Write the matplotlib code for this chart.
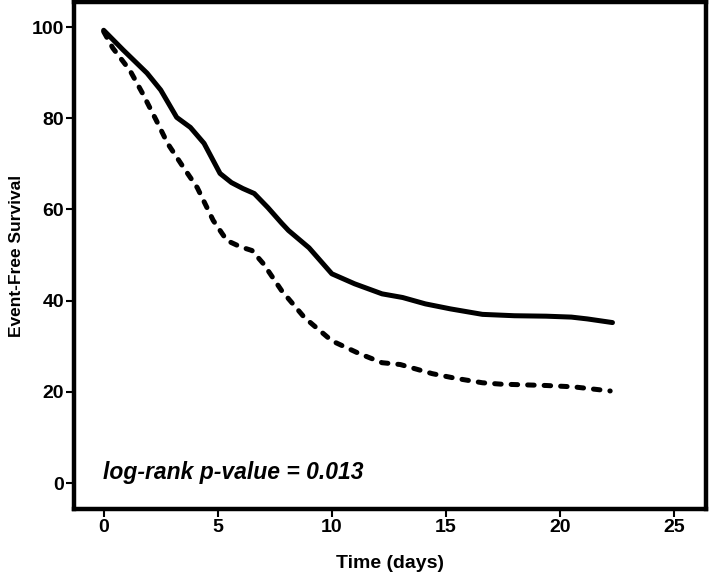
import numpy as np
import matplotlib.pyplot as plt

# survival curves (days, % event-free)
solid_t = [0, 0.85, 1.9, 2.5, 3.2, 3.8, 4.4, 5.1, 5.6, 6.1, 6.6, 7.2, 7.8, 8.1, 9.0, 10.0,
           11.0, 12.2, 13.1, 14.1, 15.2, 16.6, 18.0, 19.4, 20.5, 21.2, 22.3]
solid_v = [99.3, 95.0, 89.9, 86.2, 80.2, 78.0, 74.5, 67.9, 65.9, 64.6, 63.5, 60.4, 57.0, 55.4, 51.6, 45.9,
           43.7, 41.5, 40.7, 39.3, 38.2, 37.0, 36.7, 36.6, 36.4, 36.0, 35.2]

dashed_t = [0, 0.4, 1.15, 1.7, 2.3, 2.8, 3.5, 4.1, 4.8, 5.4, 6.0, 6.5, 7.0, 7.8, 8.8, 10.0,
            11.2, 12.2, 13.0, 14.4, 15.4, 16.6, 17.4, 19.4, 20.6, 22.2]
dashed_v = [99.0, 95.4, 90.5, 85.5, 79.6, 74.5, 69.2, 64.8, 57.6, 53.2, 51.8, 51.0, 48.1, 42.2, 36.3, 31.2,
            28.4, 26.4, 26.0, 24.0, 23.0, 22.0, 21.7, 21.4, 21.1, 20.2]

x_ticks = [0, 5, 10, 15, 20, 25]
y_ticks = [0, 20, 40, 60, 80, 100]

plt.rcParams["font.family"] = ["Liberation Sans", "DejaVu Sans"]

fig = plt.figure(figsize=(7.09, 5.72), dpi=100)
ax = fig.add_axes([0.1044, 0.110, 0.8914, 0.8865])

ax.plot(solid_t, solid_v, color="black", lw=3.6, solid_capstyle="round", solid_joinstyle="round")
ax.plot(dashed_t, dashed_v, color="black", lw=3.6, linestyle=(0, (1.3, 2.0)),
        dash_capstyle="round", dash_joinstyle="round")

ax.set_xlim(-1.3, 26.4)
ax.set_ylim(-5.7, 105.5)
ax.set_xticks(x_ticks)
ax.set_yticks(y_ticks)

for side in ["left", "right", "top", "bottom"]:
    ax.spines[side].set_linewidth(3.2)

ax.tick_params(direction="out", length=5.5, width=1.5, pad=1.5, labelsize=14)
for lab in ax.get_xticklabels() + ax.get_yticklabels():
    lab.set_fontweight("bold")

ax.set_xlabel("Time (days)", fontsize=14, fontweight="bold", labelpad=14)
ax.set_ylabel("Event-Free Survival", fontsize=12.5, fontweight="bold", labelpad=6)

ax.text(-0.05, 1.0, "log-rank p-value = 0.013", fontsize=16.5, fontweight="bold",
        fontstyle="italic", ha="left", va="baseline")

fig.savefig("out.png", dpi=100)
